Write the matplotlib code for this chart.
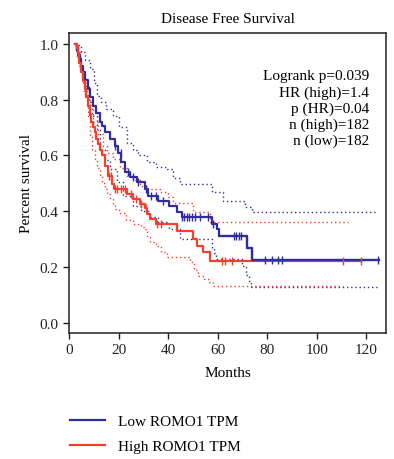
import numpy as np
import matplotlib
matplotlib.use("Agg")
import matplotlib.pyplot as plt

# Kaplan-Meier step curves (months, survival)
low_t = [2.5, 3.1, 3.8, 4.4, 5.0, 5.7, 6.5, 7.7, 8.6, 9.8, 11.0, 12.5, 13.2, 14.5, 16.5,
         18.5, 19.8, 21.2, 22.6, 24.6, 27.3, 30.7, 32.0, 36.0, 40.5, 43.5, 45.5, 57.6,
         59.6, 60.4, 71.9, 73.9, 125.0]
low_s = [1.0, 0.975, 0.96, 0.945, 0.92, 0.897, 0.87, 0.837, 0.81, 0.777, 0.75, 0.718, 0.705,
         0.682, 0.658, 0.634, 0.61, 0.575, 0.539, 0.521, 0.503, 0.48, 0.455, 0.437, 0.42,
         0.396, 0.381, 0.354, 0.336, 0.31, 0.27, 0.225, 0.225]

high_t = [2.5, 3.1, 3.5, 4.2, 4.8, 5.6, 6.4, 7.0, 7.7, 8.4, 9.1, 9.8, 10.5, 11.1, 11.8, 12.5,
          13.2, 14.5, 15.8, 17.2, 18.0, 23.4, 26.0, 28.7, 30.7, 31.5, 32.7, 35.0, 43.5, 50.0,
          51.5, 54.0, 56.8, 118.0]
high_s = [1.0, 0.985, 0.968, 0.93, 0.897, 0.865, 0.837, 0.81, 0.777, 0.745, 0.718, 0.70, 0.685,
          0.658, 0.64, 0.62, 0.60, 0.563, 0.527, 0.497, 0.479, 0.462, 0.444, 0.426, 0.41, 0.39,
          0.372, 0.354, 0.33, 0.30, 0.277, 0.254, 0.22, 0.22]

# 95% confidence bands
low_up_t = [2.5, 3.5, 5.0, 6.5, 8.5, 10.0, 11.2, 13.0, 15.0, 17.9, 20.0, 23.3, 26.0, 28.0, 31.4,
            35.0, 39.5, 42.0, 44.8, 57.6, 62.0, 71.1, 74.0, 124.3]
low_up_s = [1.0, 0.995, 0.97, 0.94, 0.909, 0.86, 0.813, 0.79, 0.765, 0.742, 0.70, 0.646, 0.62,
            0.60, 0.575, 0.56, 0.551, 0.52, 0.497, 0.468, 0.437, 0.414, 0.396, 0.396]
low_lo_t = [2.5, 3.5, 5.0, 6.5, 8.0, 9.5, 11.2, 12.5, 14.5, 16.6, 19.3, 21.9, 26.0, 29.0, 32.7,
            36.0, 40.5, 44.8, 57.6, 58.5, 59.5, 70.0, 71.5, 72.5, 73.5, 124.3]
low_lo_s = [0.99, 0.95, 0.9, 0.85, 0.79, 0.74, 0.694, 0.62, 0.585, 0.551, 0.503, 0.455, 0.42,
            0.40, 0.378, 0.36, 0.336, 0.30, 0.27, 0.25, 0.229, 0.204, 0.17, 0.15, 0.128, 0.128]
high_up_t = [2.5, 3.5, 4.4, 5.8, 7.1, 8.5, 9.8, 11.8, 13.9, 15.5, 17.9, 20.5, 23.3, 26.0, 28.7,
             32.0, 36.8, 40.0, 42.1, 50.0, 56.8, 112.5]
high_up_s = [1.0, 0.97, 0.909, 0.86, 0.813, 0.765, 0.718, 0.675, 0.634, 0.61, 0.587, 0.555,
             0.527, 0.51, 0.491, 0.48, 0.468, 0.45, 0.431, 0.396, 0.36, 0.36]
high_lo_t = [2.5, 3.2, 4.2, 5.1, 6.2, 7.5, 8.5, 9.5, 10.5, 11.5, 12.5, 13.5, 14.5, 15.5, 16.6,
             17.6, 18.6, 20.0, 23.0, 26.0, 29.0, 30.7, 31.7, 32.7, 35.0, 37.0, 39.5, 49.0, 50.5,
             52.0, 54.5, 56.5, 58.0, 110.5]
high_lo_s = [0.98, 0.95, 0.92, 0.88, 0.82, 0.74, 0.67, 0.62, 0.587, 0.555, 0.527, 0.50, 0.479,
             0.46, 0.444, 0.425, 0.408, 0.395, 0.37, 0.355, 0.345, 0.336, 0.31, 0.29, 0.275,
             0.254, 0.235, 0.218, 0.19, 0.168, 0.157, 0.146, 0.131, 0.131]

# censored observations
low_cens = [18.5, 21, 24, 26, 28, 31, 33, 35, 38, 45.5, 46.5, 47.5, 48.5, 49.5, 51, 53, 56,
            58, 66.5, 67.5, 68.5, 69.5, 79, 82, 84.5, 86, 124.8]
high_cens = [16, 17, 18.5, 19.5, 21, 22.5, 25, 27, 29, 31, 35.5, 37, 61.7, 63, 65.7, 110.6, 117.9]

stats_text = "Logrank p=0.039\nHR (high)=1.4\np (HR)=0.04\nn (high)=182\nn (low)=182"
labels = ["Low ROMO1 TPM", "High ROMO1 TPM"]

BLUE = "#2e2e9e"
RED = "#f2402a"

plt.rcParams['font.family'] = ['Liberation Serif', 'DejaVu Serif']
plt.rcParams['font.size'] = 11


def surv_at(t, s, x):
    idx = np.searchsorted(t, x, side='right') - 1
    return np.array(s)[np.clip(idx, 0, len(s) - 1)]


fig = plt.figure(figsize=(3.94, 4.60), dpi=100)
ax = fig.add_axes([0.175, 0.274, 0.805, 0.652])

# confidence bands (dotted)
ax.step(low_up_t, low_up_s, where='post', color=BLUE, lw=1.0, ls=(0, (1, 2)))
ax.step(low_lo_t, low_lo_s, where='post', color=BLUE, lw=1.0, ls=(0, (1, 2)))
ax.step(high_up_t, high_up_s, where='post', color=RED, lw=1.0, ls=(0, (1, 2)))
ax.step(high_lo_t, high_lo_s, where='post', color=RED, lw=1.0, ls=(0, (1, 2)))

# survival curves
l1, = ax.step(low_t, low_s, where='post', color=BLUE, lw=1.6, label=labels[0])
l2, = ax.step(high_t, high_s, where='post', color=RED, lw=1.6, label=labels[1])
ax.step(low_t[-4:], low_s[-4:], where='post', color=BLUE, lw=1.6)

ax.plot(low_cens, surv_at(low_t, low_s, low_cens), ls='none', marker='|',
        ms=6, mew=1.0, color=BLUE)
ax.plot(high_cens, surv_at(high_t, high_s, high_cens), ls='none', marker='|',
        ms=6, mew=1.0, color=RED)

ax.set_xlim(0, 128)
ax.set_ylim(-0.036, 1.038)
ax.set_xticks(np.arange(0, 121, 20))
ax.set_yticks(np.arange(0, 1.01, 0.2))
ax.set_yticklabels([f"{v:.1f}" for v in np.arange(0, 1.01, 0.2)])
ax.tick_params(direction='out', length=4, width=1.0, colors='#222222', labelsize=11)
for sp in ax.spines.values():
    sp.set_linewidth(1.1)
    sp.set_color('#222222')

ax.set_title("Disease Free Survival", fontsize=11, pad=8)
ax.set_xlabel("Months", fontsize=11, labelpad=7)
ax.set_ylabel("Percent survival", fontsize=11, labelpad=5)

ax.text(0.946, 0.879, stats_text, transform=ax.transAxes, ha='right', va='top',
        multialignment='right', fontsize=11, linespacing=1.27)

fig.legend(handles=[l1, l2], loc='upper left', bbox_to_anchor=(0.163, 0.110),
           frameon=False, fontsize=11, handlelength=2.3, handletextpad=0.8,
           labelspacing=0.75, borderaxespad=0.0)

fig.savefig("out.png", dpi=100)
